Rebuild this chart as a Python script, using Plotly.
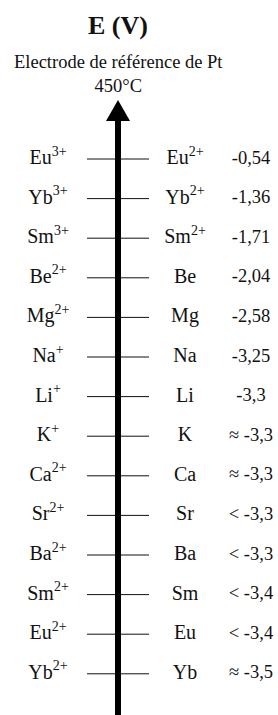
import plotly.graph_objects as go

# ---- data ----
oxydants = ["Eu<sup>3+</sup>", "Yb<sup>3+</sup>", "Sm<sup>3+</sup>", "Be<sup>2+</sup>", "Mg<sup>2+</sup>",
            "Na<sup>+</sup>", "Li<sup>+</sup>", "K<sup>+</sup>", "Ca<sup>2+</sup>", "Sr<sup>2+</sup>",
            "Ba<sup>2+</sup>", "Sm<sup>2+</sup>", "Eu<sup>2+</sup>", "Yb<sup>2+</sup>"]
reducteurs = ["Eu<sup>2+</sup>", "Yb<sup>2+</sup>", "Sm<sup>2+</sup>", "Be", "Mg",
              "Na", "Li", "K", "Ca", "Sr", "Ba", "Sm", "Eu", "Yb"]
potentiels = ["-0,54", "-1,36", "-1,71", "-2,04", "-2,58", "-3,25", "-3,3",
              "≈ -3,3", "≈ -3,3", "&lt; -3,3", "&lt; -3,3", "&lt; -3,4", "&lt; -3,4", "≈ -3,5"]
titre = "<b>E (V)</b>"
sous_titre = "Electrode de référence de Pt<br>450°C"

# ---- layout constants ----
W, H = 278, 715
n = len(oxydants)
niveaux = list(range(n))
top_px, step_px = 159, 39.6
y_top = -top_px / step_px
y_bot = (H - top_px) / step_px
FONT = "Liberation Serif, Times New Roman, serif"
INK = "#111111"


def py(px):
    return 1 - px / H


fig = go.Figure()

# tick lines across the axis
xs, ys = [], []
for lv in niveaux:
    xs += [87, 149, None]
    ys += [lv, lv, None]
fig.add_trace(go.Scatter(x=xs, y=ys, mode="lines", line=dict(color=INK, width=1),
                         hoverinfo="skip", showlegend=False))

fig.add_trace(go.Scatter(x=[48] * n, y=niveaux, mode="text", text=oxydants,
                         textposition="middle center", cliponaxis=False,
                         textfont=dict(family=FONT, size=20, color=INK),
                         hoverinfo="skip", showlegend=False))
fig.add_trace(go.Scatter(x=[185] * n, y=niveaux, mode="text", text=reducteurs,
                         textposition="middle center", cliponaxis=False,
                         textfont=dict(family=FONT, size=20, color=INK),
                         hoverinfo="skip", showlegend=False))
fig.add_trace(go.Scatter(x=[251] * n, y=niveaux, mode="text", text=potentiels,
                         textposition="middle center", cliponaxis=False,
                         textfont=dict(family=FONT, size=18.5, color=INK),
                         hoverinfo="skip", showlegend=False))

# arrow (shaft + head)
fig.add_shape(type="line", xref="x", yref="paper", x0=118, x1=118, y0=0, y1=py(118),
              line=dict(color="black", width=6))
fig.add_shape(type="path", xref="x", yref="paper",
              path=f"M 106 {py(121)} L 130 {py(121)} L 118 {py(100)} Z",
              fillcolor="black", line=dict(color="black", width=0))

fig.add_annotation(x=118, y=py(25), xref="x", yref="paper", text=titre, showarrow=False,
                   font=dict(family=FONT, size=26, color=INK), yanchor="middle")
fig.add_annotation(x=118, y=py(74), xref="x", yref="paper", text=sous_titre, showarrow=False,
                   font=dict(family=FONT, size=18.5, color=INK), yanchor="middle")

fig.update_layout(
    width=W, height=H, margin=dict(l=0, r=0, t=0, b=0),
    paper_bgcolor="white", plot_bgcolor="white",
    xaxis=dict(range=[0, W], visible=False, fixedrange=True),
    yaxis=dict(range=[y_bot, y_top], visible=False, fixedrange=True),
    showlegend=False,
)
fig.write_html("out.html", config={"displayModeBar": False, "staticPlot": True},
               post_script="document.body.style.margin='0';document.body.style.overflow='hidden';")
